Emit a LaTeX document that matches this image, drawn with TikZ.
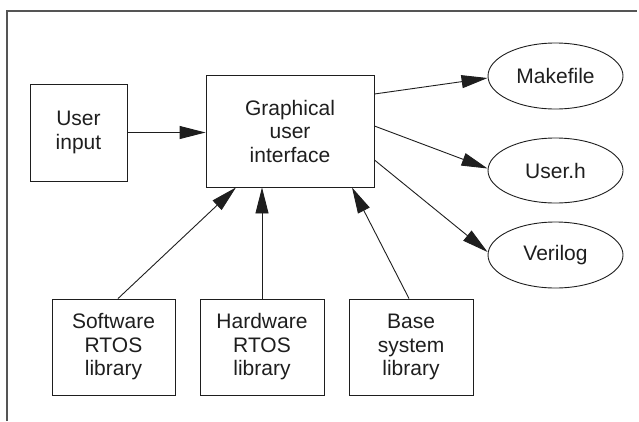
\documentclass[tikz,border=0pt]{standalone}
\usepackage{fontspec}
\setmainfont{Liberation Sans}
\usetikzlibrary{arrows.meta}
\definecolor{ink}{HTML}{1E1E1E}
\definecolor{framegray}{HTML}{555555}
\tikzset{
  block/.style={draw=ink, line width=0.9pt, text=ink, align=center,
    inner sep=0pt, font=\fontsize{21}{23.5}\selectfont},
  file/.style={block, ellipse},
  flow/.style={draw=ink, line width=0.9pt, -{Triangle[length=26pt,width=13pt]}},
}
\usetikzlibrary{shapes.geometric}
\begin{document}
\begin{tikzpicture}[x=1pt, y=-1pt]
  \useasboundingbox (0,0) rectangle (639,421);
  % partial frame
  \draw[framegray, line width=1.4pt] (7,421) -- (7,11) -- (637,11);

  % boxes
  \node[block, minimum width=97pt, minimum height=97pt] (userin) at (78.5,132.5) {User\\input};
  \node[block, minimum width=168pt, minimum height=112pt] (gui) at (290,131) {Graphical\\user\\interface};
  \node[block, minimum width=123pt, minimum height=96pt] (sw) at (113.5,347) {Software\\RTOS\\library};
  \node[block, minimum width=124pt, minimum height=96pt] (hw) at (262,347) {Hardware\\RTOS\\library};
  \node[block, minimum width=124pt, minimum height=96pt] (base) at (411,347) {Base\\system\\library};

  % generated files
  \node[file, minimum width=135pt, minimum height=66pt] (make) at (555.5,76) {Makefile};
  \node[file, minimum width=135pt, minimum height=65pt] (userh) at (555.5,170.5) {User.h};
  \node[file, minimum width=135pt, minimum height=66pt] (veril) at (555.5,255) {Verilog};

  % connectors
  \draw[flow] (userin.east) -- (userin.east -| gui.west);
  \draw[flow] ([yshift=37pt]gui.east) -- ([yshift=-2pt]make.west);
  \draw[flow] ([yshift=5pt]gui.east) -- ([yshift=2pt]userh.west);
  \draw[flow] ([yshift=-29pt]gui.east) -- ([yshift=3pt]veril.west);
  \draw[flow] ([xshift=4.5pt]sw.north) -- ([xshift=-54pt]gui.south);
  \draw[flow] (hw.north) -- ([xshift=-28pt]gui.south);
  \draw[flow] ([xshift=-2pt]base.north) -- ([xshift=62pt]gui.south);
\end{tikzpicture}
\end{document}
